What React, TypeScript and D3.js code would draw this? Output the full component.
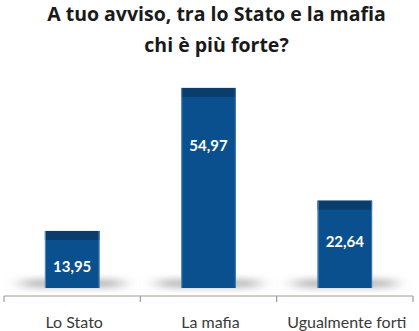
import React from "react";
import * as d3 from "d3";

const categories = ["Lo Stato", "La mafia", "Ugualmente forti"];
const values = [13.95, 54.97, 22.64];
const valueLabels = ["13,95", "54,97", "22,64"];
const titleLines = ["A tuo avviso, tra lo Stato e la mafia", "chi è più forte?"];

const W = 419;
const H = 331;

export default function App() {
  const x = d3.scaleBand<string>().domain(categories).range([4, 413]).paddingInner(0.6).paddingOuter(0.3);
  const y = d3.scaleLinear().domain([0, 60]).range([279.6, 70.4]);
  const base = y(0) + 8.4;
  const axisY = 296;
  const half = (x.step() - x.bandwidth()) / 2;
  const tickXs = [...categories.map((c) => (x(c) as number) - half), 413];
  const font = "Lato, 'Open Sans', sans-serif";

  return (
    <svg width={W} height={H} style={{ position: "absolute", left: 0, top: 0, background: "#fff" }}>
      <defs>
        <filter id="blur" x="-50%" y="-200%" width="200%" height="500%">
          <feGaussianBlur stdDeviation="9 3" />
        </filter>
      </defs>
      <rect width={W} height={H} fill="#fff" />
      {titleLines.map((t, i) => (
        <text
          key={i}
          x={216.5}
          y={21 + i * 31}
          textAnchor="middle"
          fontFamily="'Open Sans', sans-serif"
          fontWeight="bold"
          fontSize={19.5}
          fill="#1a1a1a"
        >
          {t}
        </text>
      ))}
      {categories.map((c, i) => {
        const bx = x(c) as number;
        const bw = x.bandwidth();
        const top = y(values[i]);
        return (
          <g key={c}>
            <rect
              x={bx - 22}
              y={base - 9}
              width={bw + 44}
              height={9}
              fill="#a8a8a8"
              opacity={0.75}
              filter="url(#blur)"
            />
            <rect x={bx} y={top} width={bw} height={base - top} fill="#0b508e" />
            <rect x={bx} y={top} width={bw} height={9} fill="#0a3c6c" />
            <line x1={bx + 0.5} x2={bx + 0.5} y1={top} y2={base} stroke="#5d92c8" strokeWidth={1} />
            <line x1={bx + bw - 0.5} x2={bx + bw - 0.5} y1={top} y2={base} stroke="#3f78b2" strokeWidth={1} />
            <text
              x={bx + bw / 2}
              y={y(values[i] * 0.846) + 34}
              textAnchor="middle"
              fontFamily={font}
              fontWeight="bold"
              fontSize={15}
              fill="#ffffff"
            >
              {valueLabels[i]}
            </text>
            <text
              x={bx + bw / 2 + 2}
              y={328}
              textAnchor="middle"
              fontFamily={font}
              fontSize={16}
              fill="#3a3a3a"
            >
              {c}
            </text>
          </g>
        );
      })}
      <line x1={tickXs[0]} x2={413} y1={axisY} y2={axisY} stroke="#a09a96" strokeWidth={1.2} />
      {tickXs.map((tx, i) => (
        <line key={i} x1={tx} x2={tx} y1={axisY} y2={axisY + 6} stroke="#a09a96" strokeWidth={1.2} />
      ))}
    </svg>
  );
}
